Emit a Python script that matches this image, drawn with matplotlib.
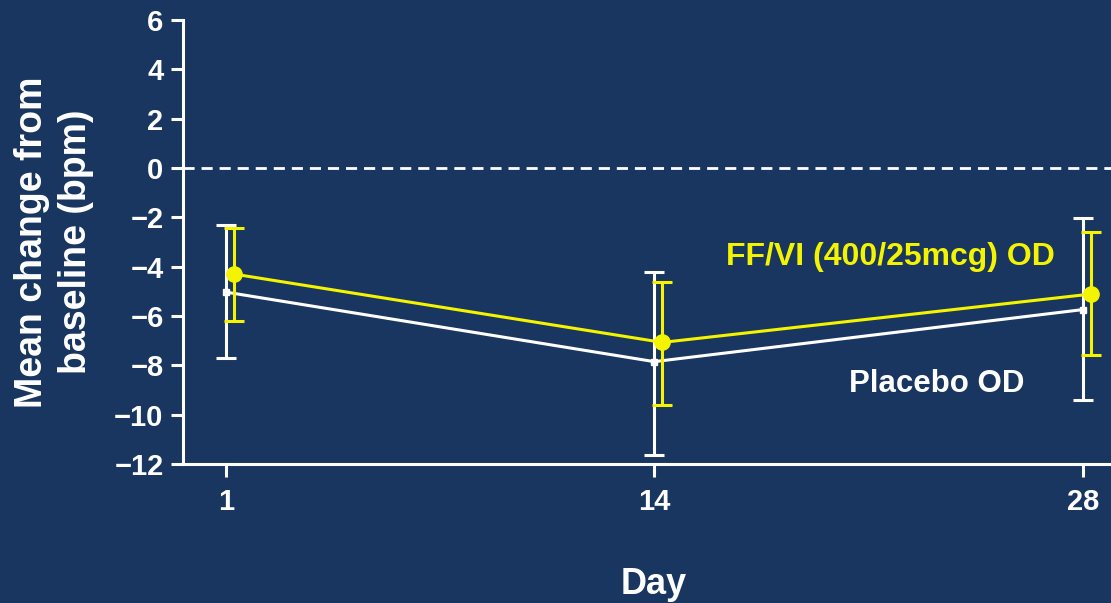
import numpy as np
import matplotlib
matplotlib.use("Agg")
import matplotlib.pyplot as plt

days = ["1", "14", "28"]

ffvi_mean = [-4.3, -7.07, -5.11]
ffvi_upper = [-2.42, -4.63, -2.58]
ffvi_lower = [-6.20, -9.61, -7.58]

placebo_mean = [-5.03, -7.85, -5.74]
placebo_upper = [-2.31, -4.23, -2.04]
placebo_lower = [-7.70, -11.62, -9.39]

yticks = [6, 4, 2, 0, -2, -4, -6, -8, -10, -12]

bg = "#183660"
yellow = "#F4F400"
white = "white"

plt.rcParams['font.family'] = ['Liberation Sans', 'DejaVu Sans']
plt.rcParams['font.weight'] = 'bold'

fig = plt.figure(figsize=(11.11, 6.03), dpi=100, facecolor=bg)
ax = fig.add_axes([0.1647, 0.2305, 0.887, 0.7363])
ax.set_facecolor(bg)

x = np.arange(len(days))
off = 0.019

# zero reference line
ax.axhline(0, color=white, lw=2, ls=(0, (4, 2.5)), zorder=1)

pm = np.array(placebo_mean)
ax.errorbar(x, pm, yerr=[pm - np.array(placebo_lower), np.array(placebo_upper) - pm],
            color=white, lw=2.2, elinewidth=2.2, capsize=7, capthick=2.2,
            marker='s', markersize=4, zorder=3)

fm = np.array(ffvi_mean)
ax.errorbar(x + off, fm, yerr=[fm - np.array(ffvi_lower), np.array(ffvi_upper) - fm],
            color=yellow, lw=2.2, elinewidth=2.2, capsize=7, capthick=2.2,
            marker='o', markersize=11, zorder=4)

ax.set_xlim(-0.1, 2.2)
ax.set_ylim(-12, 6)
ax.set_xticks(x)
ax.set_xticklabels(days)
ax.set_yticks(yticks)
ax.set_yticklabels([str(t).replace('-', '\u2212') for t in yticks])

for s in ['top', 'right']:
    ax.spines[s].set_visible(False)
for s in ['left', 'bottom']:
    ax.spines[s].set_color(white)
    ax.spines[s].set_linewidth(2.2)

ax.tick_params(axis='both', colors=white, width=2.2, length=9, labelsize=21)
ax.tick_params(axis='y', pad=5)
ax.tick_params(axis='x', pad=8)
for lab in ax.get_xticklabels() + ax.get_yticklabels():
    lab.set_fontweight('bold')

ax.text(1.55, -3.6, "FF/VI (400/25mcg) OD", color=yellow, fontsize=23,
        fontweight='bold', ha='center', va='center')
ax.text(1.66, -8.75, "Placebo OD", color=white, fontsize=22.5,
        fontweight='bold', ha='center', va='center')

fig.text(54 / 1111, 1 - 242 / 603, "Mean change from\nbaseline (bpm)", color=white,
         fontsize=27, fontweight='bold', rotation=90, ha='center', va='center',
         multialignment='center', linespacing=1.3)
fig.text(654 / 1111, 1 - 594 / 603, "Day", color=white, fontsize=26,
         fontweight='bold', ha='center', va='baseline')

fig.savefig("out.png", dpi=100, facecolor=bg)
